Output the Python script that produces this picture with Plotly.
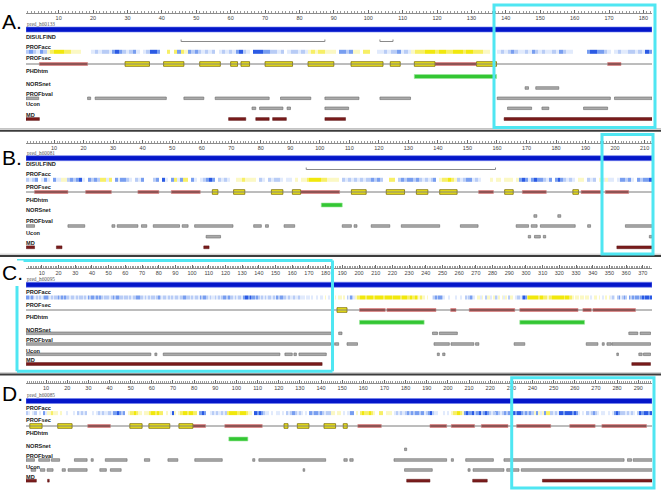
import plotly.graph_objects as go

W, H = 661, 492
X0, X1 = 26, 652

# ---------------- DATA ----------------
PANEL_NAMES = ["A.", "B.", "C.", "D."]
PROTEIN_IDS = ["pred_h60133", "pred_h60081", "pred_h60095", "pred_h60085"]
LENGTHS = [182, 212, 375, 296]

# PROFacc per residue: D dark blue, B blue, c light blue, b pale blue, . white, y pale yellow, Y yellow, Z strong yellow
A_acc = ("cBcbBc" "yYZZZYYyy" "y..." "bcbccb" "BDB" "cbc" "B" "b.bc" "DDB" ".." "Y" "." "Y" "B" "Yy"
         "BcBcb" "cbc." "bcbcb" "BD" "cb." "DDDB" "Bc" "cbc." "bccbcb" "yYyYYy" "yy." "BBcB" "yy." "YY"
         "..b" "bcbc" "cBbcb" "yYYYZZZYZZYYZZZYZZYYYyy" ".." "bcbcBcbbcbBcbcbbcbBcbb." "..." "BDDBBc"
         "b." "bcbbccbcb" "DB")
B_acc = ("cbc" "B" ".b" "B" "b." "B" "bb" "yy" "cBcB" "D" "b." "BcBc" "YY" "b" "Y" "." "B" "b" "BBc" "b."
         "cbB" "..." "cB" "." "D"
         "b" "." "B" "Y" "b" "B" "YY" "." "B" "b.b" "c" "BDB" "." "cbcb" ".." "yyYyyyy" "." "cb" "."
         "cbcc" "b.bb" ".y.y" "yYZZZZYYyy"
         "yy." "cbcbcb" "cbc" "cBcBc" ".." "YY" "." "cBc" "BBcB" "cbcbc" "B" "." "yYYZYy" "cbc" "BB" "bcb"
         "..." "y." "yy.yyy.y" "BDB" "b" "BDBB" "cbB" "." "BDB" "cbc" "b." "yy." "cbc" ".yby" "bb.b"
         "BBcB" "b." "BcBBD")
C_acc = ("BBcBc" "bcbcbc" "BB" "cbcbcc" "BcBcBc" "cbccbcbccbcb" "BcBBcBcB" "cbcccbc" "BcBBc" "cbccbcbcc"
         "BBc" "cbcbcbccbc" "B" "cbccbcbcbccbcc" "BBc" "cbcbccb" "BcBBc" "bcbbcbcbc" "BBcBc" "cbcbccb"
         "BDDBDBBcB" "cbcbcbccbcb" "BcBBc" "cbcbbcbbcb" "bb.bb.b..b.bb.y.b."
         "..y." "yy.y." "cbBcb" "yYYZZZYZZZZYZZZZZYZZZZYZZZZYZZZYYZYYZY" "yYyy.y" "..b" "cBcBBcb"
         "..b...b..b.." "cbcBcb.y" "yby.cyyb.ycby.yby.cyy.bc" "cbBDB" "YZZZZZZYZZYYyYYZZZZZZZYZZYYy.y"
         "y.yy.yy.b.yy.y.b.y.yb" "cb.cBbcBc.BcBcBBcBDBDDBD")
D_acc = ("cb.bc.b." "Bb" "yyYyy.y" "..b..b." "cbcbc" "..b." "bcbcbbcb" "BB" "DBcB" ".y" "YYZY" "yy.yy"
         "YZZYZYY" ".y.b" "D" "y.y" "YZZYZZYY" "." "BDB" "..b" "cbcbcbc" "YZZZZYZZZY" "yy." "DBDB" "cb"
         "b.b.bb.b." "cbcBcbc" "b.b." "BcBBcB" "cbcc" "yy.yy" ".b.b" "BB" ".y." "YZYYZYy" ".." "YY" "."
         "yyy." "bcbcbc" "BcBcBBcB" "bc" "BD" "cb" "b..b.b." "yYYZYy" "BDBBD" "c" "BDcBDB" "cbcBcbc"
         "BcBB" "DBDDB" "cBcBc" "yBybyB" "YY" "cbcb" "DDBDDDBDB" "b.b." "cbcBc" "b.bb.b.b" "BDBc"
         "cbcbcb" ".c" "DBDDBD")

# DISULFIND bonds (start, end residue)
A_disulf = [(45.6, 87.4), (103.4, 107.2)]
B_disulf = [(95.4, 159.5)]
C_disulf = []
D_disulf = []

# PROFsec helices (red) and strands (yellow)
A_helix = [(4.4, 18.4), (119.4, 131.5), (169.6, 173.5)]
A_strand = [(29.3, 36.4), (40.5, 46.4), (51, 57), (60, 62), (63, 65.5), (70, 78), (82.5, 90),
            (95, 104.3), (106.4, 109.3), (113.4, 119.4), (131.5, 137.3)]
B_helix = [(3.4, 14.7), (20.7, 29.4), (38.4, 45.5), (49.7, 59.5), (93.5, 106.7), (153.8, 158.8),
           (168.6, 176.7), (188.5, 195.3), (196.7, 204.6)]
B_strand = [(63.6, 65.5), (70.8, 74.6), (83.6, 87.5), (90.7, 93.5), (110.7, 115.7), (122.5, 128.7),
            (132.7, 136.6), (140.6, 146.5), (162.6, 165.5), (185.7, 187.6)]
C_helix = [(200.3, 215.7), (216.7, 246.1), (254.9, 258.1), (266, 293.3), (296.3, 331.2),
           (334.1, 339.1), (340.1, 365.6)]
C_strand = [(186.8, 192.8)]
D_helix = [(29.7, 40.4), (79.4, 85.4), (94.5, 112.2), (157.4, 168.5), (191.5, 199.4), (201.6, 212.6),
           (215.8, 228.4), (232.5, 248.6), (257.6, 269.6), (272.8, 293.9)]
D_strand = [(2.3, 8.1), (15.5, 22.3), (49.6, 55.4), (58.6, 68.5), (72.8, 79.4), (122.5, 124.4),
            (128.8, 134.3), (141.4, 146.9), (150.5, 152.4)]

# PHDhtm transmembrane segments
A_htm = [(113.4, 137.3)]
B_htm = [(100.5, 107.6)]
C_htm = [(200.3, 239), (296.3, 335.1)]
D_htm = [(96.4, 105.4)]

# NORSnet
A_nors = [(145.6, 146.6), (148.7, 155.4)]
B_nors = [(172.5, 173.5), (180.6, 181.6)]
C_nors = [(0.6, 183.5), (187.8, 189.8), (244, 247), (248.1, 258.9), (361.6, 367), (368.4, 374.6)]
D_nors = [(179.5, 180.5)]

# PROFbval
A_bval = [(0.5, 4.2), (18.4, 19.3), (20.6, 41.3), (46.4, 52.2), (55.5, 71.2), (74.5, 83.3), (87.4, 97.3),
          (103.4, 112.3), (137.5, 170.4), (171.6, 182.5)]
B_bval = [(0.6, 3.4), (14.7, 20.4), (29.6, 30.6), (31.4, 38.4), (39.6, 41.4), (43.6, 52.5), (53.4, 55.4),
          (57.6, 70.6), (77.6, 80.2), (81.6, 82.6), (87.9, 91.5), (107.6, 110.7), (111.6, 112.6),
          (117.4, 123.7), (127.6, 140.6), (147.6, 153.6), (166.5, 170.7), (171.6, 173.6), (174.7, 186.5),
          (190.7, 191.7), (203.5, 212.6)]
C_bval = [(0.6, 183), (183.6, 185.2), (185.8, 187.8), (192.8, 199.1), (244.9, 254.1), (255.1, 268.8),
          (269.8, 271.8), (292.9, 299.3), (336.1, 343.1), (345.7, 346.9), (348.5, 351.1), (351.5, 374.6)]
D_bval = [(0.5, 4.5), (6.5, 11.7), (12.5, 16.4), (23.4, 29.4), (31.3, 32.3), (38, 48.3), (56.5, 59),
          (67.6, 72.3), (80.3, 93.3), (107.7, 108.7), (110.6, 142.2), (150.8, 152.4), (153.6, 155.2),
          (174.5, 199.4), (201.6, 202.6), (208.4, 221.5), (226.5, 283.3), (284.9, 286.8), (287.6, 296.7)]

# Ucon
A_ucon = [(66.2, 67.3), (68.4, 75.2), (76.4, 77.4), (87.4, 94.3), (140.5, 147.5), (150.5, 152.5),
          (162.6, 169.6)]
B_ucon = [(61.5, 66.4), (170.6, 171.4), (172.7, 174.7), (175.7, 176.5), (211.6, 212.5)]
C_ucon = [(0.6, 75.3), (77.7, 78.9), (82.7, 152.6), (155.6, 160), (161, 162.5), (164, 180.4),
          (246.9, 248.1), (250.1, 251.5), (354.4, 355.4), (367.6, 369.6), (370.4, 374.6)]
D_ucon = [(2.9, 5.1), (7.3, 9.4), (10.5, 13.3), (17.6, 19.1), (20.4, 29.4), (35.4, 38.5), (40.4, 45.5),
          (131.5, 132.3), (179.5, 192.6), (209.5, 210.5), (211.9, 226.5), (227.8, 233.6), (234.7, 296.7)]

# MD
A_md = [(0.5, 4.4), (59.4, 64.4), (67.3, 71.2), (72.2, 76.2), (87.4, 93.4), (139.5, 182.5)]
B_md = [(0.6, 3.4), (10.8, 12.7), (60.7, 62.5), (200.6, 212.6)]
C_md = [(0.6, 177.9), (363.4, 374.6)]
D_md = [(0.5, 5.4), (10.7, 11.5), (180.5, 191.5), (211.7, 218.6), (244.7, 296.7)]

ACC = [A_acc, B_acc, C_acc, D_acc]
DISULF = [A_disulf, B_disulf, C_disulf, D_disulf]
HELIX = [A_helix, B_helix, C_helix, D_helix]
STRAND = [A_strand, B_strand, C_strand, D_strand]
HTM = [A_htm, B_htm, C_htm, D_htm]
NORS = [A_nors, B_nors, C_nors, D_nors]
BVAL = [A_bval, B_bval, C_bval, D_bval]
UCON = [A_ucon, B_ucon, C_ucon, D_ucon]
MD = [A_md, B_md, C_md, D_md]

# ---------------- LAYOUT (pixel rows) ----------------
ROWS = [
    dict(letter=21, ruler=12.7, pid=23.8, bar=29.5, dlab=37, dis=41.5, acclab=46.5, acc=52, seclab=58,
         sec=64, htmlab=71, htm=76.5, norslab=84, nors=88, bvallab=94, bval=98.3, uconlab=104,
         ucon=108.3, mdlab=115, md=119),
    dict(letter=157, ruler=142.7, pid=152.8, bar=158.2, dlab=164, dis=169.5, acclab=174, acc=180,
         seclab=186.5, sec=192, htmlab=200, htm=205, norslab=209.5, nors=216, bvallab=220.5, bval=226,
         uconlab=232.5, ucon=236.7, mdlab=242.5, md=247.3),
    dict(letter=272.5, ruler=267.7, pid=278.8, bar=284.7, dlab=None, dis=None, acclab=292.3, acc=297.7,
         seclab=305, sec=310, htmlab=316.7, htm=322.3, norslab=330, nors=333.3, bvallab=340, bval=344,
         uconlab=350.7, ucon=354.3, mdlab=360.3, md=364),
    dict(letter=393, ruler=382.7, pid=394.8, bar=401, dlab=None, dis=None, acclab=408.3, acc=413.3,
         seclab=420, sec=426, htmlab=433.3, htm=439, norslab=446, nors=449.3, bvallab=456, bval=460,
         uconlab=466.7, ucon=470, mdlab=476.7, md=480.7),
]

LEVELS = "DBcb.yYZ"
LEVEL_COLORS = ["#2b5ae4", "#789ef0", "#b8ccf6", "#e1eafc", "#ffffff", "#fbf8c4", "#f7ef66", "#f1e80c"]
cscale = []
for i, c in enumerate(LEVEL_COLORS):
    cscale.append([i / len(LEVEL_COLORS), c])
    cscale.append([(i + 1) / len(LEVEL_COLORS), c])

fig = go.Figure()


def add_bars(segs, y, h, fill, line, lw, xa):
    if not segs:
        return
    fig.add_trace(go.Bar(orientation="h", base=[s for s, e in segs], x=[e - s for s, e in segs],
                         y=[y] * len(segs), width=h,
                         marker=dict(color=fill, line=dict(color=line, width=lw)),
                         xaxis=xa, yaxis="y", showlegend=False, hoverinfo="skip"))


annotations = []
shapes = []
LAB_FONT = dict(family="Liberation Sans", size=5.6, color="#1a1a1a")

for p in range(4):
    xa = "x" if p == 0 else "x%d" % (p + 1)
    r = ROWS[p]
    L = LENGTHS[p]

    # protein bar
    add_bars([(0.5, L + 0.5)], r["bar"], 5, "#0416c9", "#7080ee", 0.6, xa)

    # disulfide brackets
    if DISULF[p]:
        xs, ys = [], []
        for s, e in DISULF[p]:
            xs += [s, s, e, e, None]
            ys += [r["dis"] - 2, r["dis"], r["dis"], r["dis"] - 2, None]
        fig.add_trace(go.Scatter(x=xs, y=ys, mode="lines", line=dict(color="#8a8a8a", width=1),
                                 xaxis=xa, yaxis="y", showlegend=False, hoverinfo="skip"))

    # PROFacc heat strip
    acc = ACC[p]
    fig.add_trace(go.Heatmap(z=[[LEVELS.index(c) for c in acc]],
                             x=[i + 0.5 for i in range(len(acc) + 1)],
                             y=[r["acc"] - 2.2, r["acc"] + 2.2],
                             colorscale=cscale, zmin=-0.5, zmax=len(LEVELS) - 0.5, showscale=False,
                             xaxis=xa, yaxis="y", hoverinfo="skip"))

    # PROFsec baseline + elements
    fig.add_trace(go.Scatter(x=[0.5, L + 0.5], y=[r["sec"], r["sec"]], mode="lines",
                             line=dict(color="#7a7a7a", width=1), xaxis=xa, yaxis="y",
                             showlegend=False, hoverinfo="skip"))
    add_bars(HELIX[p], r["sec"], 3, "#a32f2f", "#e08a8a", 0.6, xa)
    add_bars(STRAND[p], r["sec"], 4.6, "#f1e81a", "#7b6c00", 0.8, xa)

    add_bars(HTM[p], r["htm"], 4, "#33c633", "#9be89b", 0.6, xa)
    add_bars(NORS[p], r["nors"], 2.6, "#aaaaaa", "#6a6a6a", 0.6, xa)
    add_bars(BVAL[p], r["bval"], 2.6, "#aaaaaa", "#6a6a6a", 0.6, xa)
    add_bars(UCON[p], r["ucon"], 2.6, "#aaaaaa", "#6a6a6a", 0.6, xa)
    add_bars(MD[p], r["md"], 2.8, "#7a1c1c", "#5a1212", 0.5, xa)

    # axis (ruler)
    key = "xaxis" if p == 0 else "xaxis%d" % (p + 1)
    fig.layout[key] = dict(domain=[X0 / W, X1 / W], range=[0.5, L + 0.5], anchor="free",
                           position=1 - r["ruler"] / H, side="bottom", showline=True,
                           linecolor="#8c8c8c", linewidth=1, ticks="inside", ticklen=3,
                           tickcolor="#6a6a6a", tickwidth=1, dtick=10, tick0=0,
                           ticklabelstandoff=0,
                           tickfont=dict(family="Liberation Sans", size=5.5, color="#444"),
                           showgrid=False, zeroline=False, fixedrange=True,
                           minor=dict(ticks="inside", dtick=1, ticklen=1.5, tickcolor="#9a9a9a",
                                      showgrid=False))

    # texts
    annotations.append(dict(text=PANEL_NAMES[p], x=1 / W, y=r["letter"], xref="paper", yref="y",
                            xanchor="left", yanchor="middle", showarrow=False,
                            font=dict(family="Liberation Sans", size=21, color="#000"),
                            bgcolor="white" if p == 2 else None, borderpad=0))
    annotations.append(dict(text=PROTEIN_IDS[p], x=X0 / W, y=r["pid"], xref="paper", yref="y",
                            xanchor="left", yanchor="middle", showarrow=False,
                            font=dict(family="Liberation Serif", size=5.3, color="#555"),
                            borderpad=0))
    labels = []
    if r["dlab"] is not None:
        labels.append(("DISULFIND", r["dlab"]))
    labels += [("PROFacc", r["acclab"]), ("PROFsec", r["seclab"]), ("PHDhtm", r["htmlab"]),
               ("NORSnet", r["norslab"]), ("PROFbval", r["bvallab"]), ("Ucon", r["uconlab"]),
               ("MD", r["mdlab"])]
    for t, yy in labels:
        annotations.append(dict(text="<b>%s</b>" % t, x=X0 / W - 1 / W, y=yy, xref="paper", yref="y",
                                xanchor="left", yanchor="middle", showarrow=False, font=LAB_FONT,
                                borderpad=0))

# separators
for yl, yd in [(128.5, 130.8), (254.2, 256.0), (372.8, 374.6)]:
    shapes.append(dict(type="line", xref="paper", yref="y", x0=0, x1=1, y0=yl, y1=yl,
                       line=dict(color="#c4c4c4", width=1)))
    shapes.append(dict(type="line", xref="paper", yref="y", x0=0, x1=1, y0=yd, y1=yd,
                       line=dict(color="#3c3c3c", width=2)))

CY = "#4fe6f2"
# highlight boxes (pixel coords)
for bx0, by0, bx1, by1 in [(494, 5, 655, 127.5), (602, 134.5, 653, 254), (511.7, 377.7, 654, 488)]:
    shapes.append(dict(type="rect", xref="paper", yref="y", x0=bx0 / W, x1=bx1 / W, y0=by0, y1=by1,
                       line=dict(color=CY, width=3), layer="above"))
# box C (left edge starts under the letter)
for (ax0, ay0, ax1, ay1) in [(17, 260.5, 332.5, 260.5), (332.5, 260.5, 332.5, 371.3),
                             (17, 371.3, 332.5, 371.3), (17, 286, 17, 371.3)]:
    shapes.append(dict(type="line", xref="paper", yref="y", x0=ax0 / W, x1=ax1 / W, y0=ay0, y1=ay1,
                       line=dict(color=CY, width=3), layer="above"))

fig.update_layout(
    width=W, height=H, margin=dict(l=0, r=0, t=0, b=0),
    paper_bgcolor="white", plot_bgcolor="rgba(0,0,0,0)",
    barmode="overlay", showlegend=False,
    yaxis=dict(domain=[0, 1], range=[H, 0], visible=False, fixedrange=True),
    annotations=annotations, shapes=shapes,
)

fig.write_html("out.html", config={"displayModeBar": False},
               post_script="document.body.style.margin='0px';document.body.style.padding='0px';")
